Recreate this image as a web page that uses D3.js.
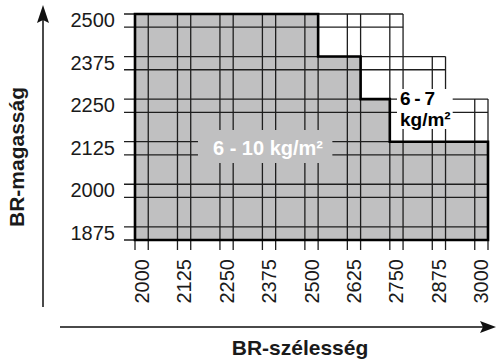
<!DOCTYPE html>
<html>
<head>
<meta charset="utf-8">
<script src="https://cdn.jsdelivr.net/npm/d3@7/dist/d3.min.js"></script>
<style>
  body { margin: 0; background: #fff; }
  svg { display: block; font-family: "Liberation Sans", Arial, Helvetica, sans-serif; }
</style>
</head>
<body>
<svg id="chart" width="496" height="361"></svg>
<script>
// Door sizes (mm): width columns and height rows
const widths = ["2000", "2125", "2250", "2375", "2500", "2625", "2750", "2875", "3000"];
const heights = ["2500", "2375", "2250", "2125", "2000", "1875"];

// Largest width available for the tallest heights (outer limit of the grid)
const limitHeights = ["2500", "2375", "2250"];
const limitWidths = ["2750", "2875", "3000"];

// Staircase of the 6 - 10 kg/m² zone: max width per height
const zoneHeights = ["2500", "2375", "2250", "2125"];
const zoneWidths = ["2500", "2625", "2750", "3000"];
const zoneWidthSide = ["end", "end", "start", "end"];

const zoneLabel = "6 - 10 kg/m²";
const lightZoneLabel = ["6\u2009-\u20097", "kg/m²"];
const xTitle = "BR-szélesség";
const yTitle = "BR-magasság";

const svg = d3.select("#chart");

const x = d3.scaleBand().domain(widths).range([135, 488]).paddingInner(0.688).paddingOuter(0);
const y = d3.scaleBand().domain(heights).range([14, 240]).paddingInner(0.69).paddingOuter(0);
const bw = x.bandwidth(), bh = y.bandwidth();

const yBottom = y.range()[1];
const xLeft = x.range()[0];

// top edge of the grid for a given column
function columnTop(w) {
  const i = limitWidths.findIndex(lw => +lw >= +w);
  return y(limitHeights[i]);
}
// right edge of the grid for a given row
function rowRight(h) {
  const i = limitHeights.indexOf(h);
  const w = i >= 0 ? limitWidths[i] : widths[widths.length - 1];
  return x(w) + bw;
}

// grey 6 - 10 kg/m² zone
const zonePts = [[xLeft, yBottom], [xLeft, y(zoneHeights[0])]];
zoneHeights.forEach((h, i) => {
  const xe = x(zoneWidths[i]) + (zoneWidthSide[i] === "end" ? bw : 0);
  zonePts.push([xe, y(h)]);
  const next = i + 1 < zoneHeights.length ? y(zoneHeights[i + 1]) : yBottom;
  zonePts.push([xe, next]);
});
const line = d3.line();
svg.append("path").attr("d", line(zonePts) + "Z").attr("fill", "#c0c0c1");

// grid lines, two per size; they run past the grid as tick marks
const grid = svg.append("g").attr("stroke", "#1e1e1e").attr("stroke-width", 1.3).attr("fill", "none");
widths.forEach(w => {
  [x(w), x(w) + bw].forEach(px => {
    grid.append("line").attr("x1", px).attr("x2", px)
      .attr("y1", columnTop(w)).attr("y2", yBottom + 10);
  });
});
heights.forEach(h => {
  [y(h), y(h) + bh].forEach(py => {
    grid.append("line").attr("y1", py).attr("y2", py)
      .attr("x1", xLeft - 11).attr("x2", rowRight(h));
  });
});

// zone labels with knock-out backgrounds
const g1 = svg.append("g");
const t1 = g1.append("text").attr("x", 268).attr("y", 155)
  .attr("text-anchor", "middle").attr("fill", "#fff")
  .attr("font-weight", "bold").attr("font-size", 20).text(zoneLabel);
const b1 = t1.node().getBBox();
g1.insert("rect", "text").attr("x", b1.x - 15).attr("y", 130)
  .attr("width", b1.width + 24).attr("height", 33).attr("fill", "#c0c0c1");

const g2 = svg.append("g");
const lines2 = lightZoneLabel.map((s, i) =>
  g2.append("text").attr("x", 400).attr("y", 105 + i * 21)
    .attr("fill", "#000").attr("font-weight", "bold").attr("font-size", 19).text(s));
const bb = lines2.map(t => t.node().getBBox());
const bx0 = d3.min(bb, b => b.x), bx1 = d3.max(bb, b => b.x + b.width);
g2.insert("rect", "text").attr("x", bx0 - 3).attr("y", bb[0].y + 1)
  .attr("width", bx1 - bx0 + 5).attr("height", bb[1].y + bb[1].height - bb[0].y - 2)
  .attr("fill", "#fff");

// thick outline of the grey zone
svg.append("path").attr("d", line(zonePts) + "Z")
  .attr("fill", "none").attr("stroke", "#000").attr("stroke-width", 2.6)
  .attr("stroke-linejoin", "miter");

// tick labels
const yAxis = svg.append("g").attr("transform", `translate(${xLeft - 11},0)`)
  .call(d3.axisLeft(y).tickSize(0).tickPadding(9));
yAxis.select(".domain").remove();
yAxis.selectAll("text").attr("font-size", 20).attr("fill", "#1a1a1a")
  .attr("font-family", "Liberation Sans, Arial, sans-serif");

const xAxis = svg.append("g").attr("transform", `translate(0,${yBottom})`)
  .call(d3.axisBottom(x).tickSize(0));
xAxis.select(".domain").remove();
xAxis.selectAll("text")
  .attr("transform", "rotate(-90)")
  .attr("x", -19).attr("y", 0).attr("dy", "0.35em")
  .style("text-anchor", "end")
  .attr("font-size", 20).attr("fill", "#1a1a1a")
  .attr("font-family", "Liberation Sans, Arial, sans-serif");

// axis arrows
svg.append("line").attr("x1", 43).attr("x2", 43).attr("y1", 307).attr("y2", 18)
  .attr("stroke", "#4a4a4a").attr("stroke-width", 2);
svg.append("path").attr("d", "M43,5L37,23L43,20L49,23Z").attr("fill", "#111");
svg.append("line").attr("x1", 60).attr("x2", 484).attr("y1", 327).attr("y2", 327)
  .attr("stroke", "#4a4a4a").attr("stroke-width", 2);
svg.append("path").attr("d", "M496,327L480,321L483,327L480,333Z").attr("fill", "#111");

// axis titles
svg.append("text").attr("transform", "translate(24,157) rotate(-90)")
  .attr("text-anchor", "middle").attr("font-weight", "bold").attr("font-size", 21)
  .attr("fill", "#1a1a1a").text(yTitle);
svg.append("text").attr("x", 300).attr("y", 355)
  .attr("text-anchor", "middle").attr("font-weight", "bold").attr("font-size", 21)
  .attr("fill", "#1a1a1a").text(xTitle);
</script>
</body>
</html>
